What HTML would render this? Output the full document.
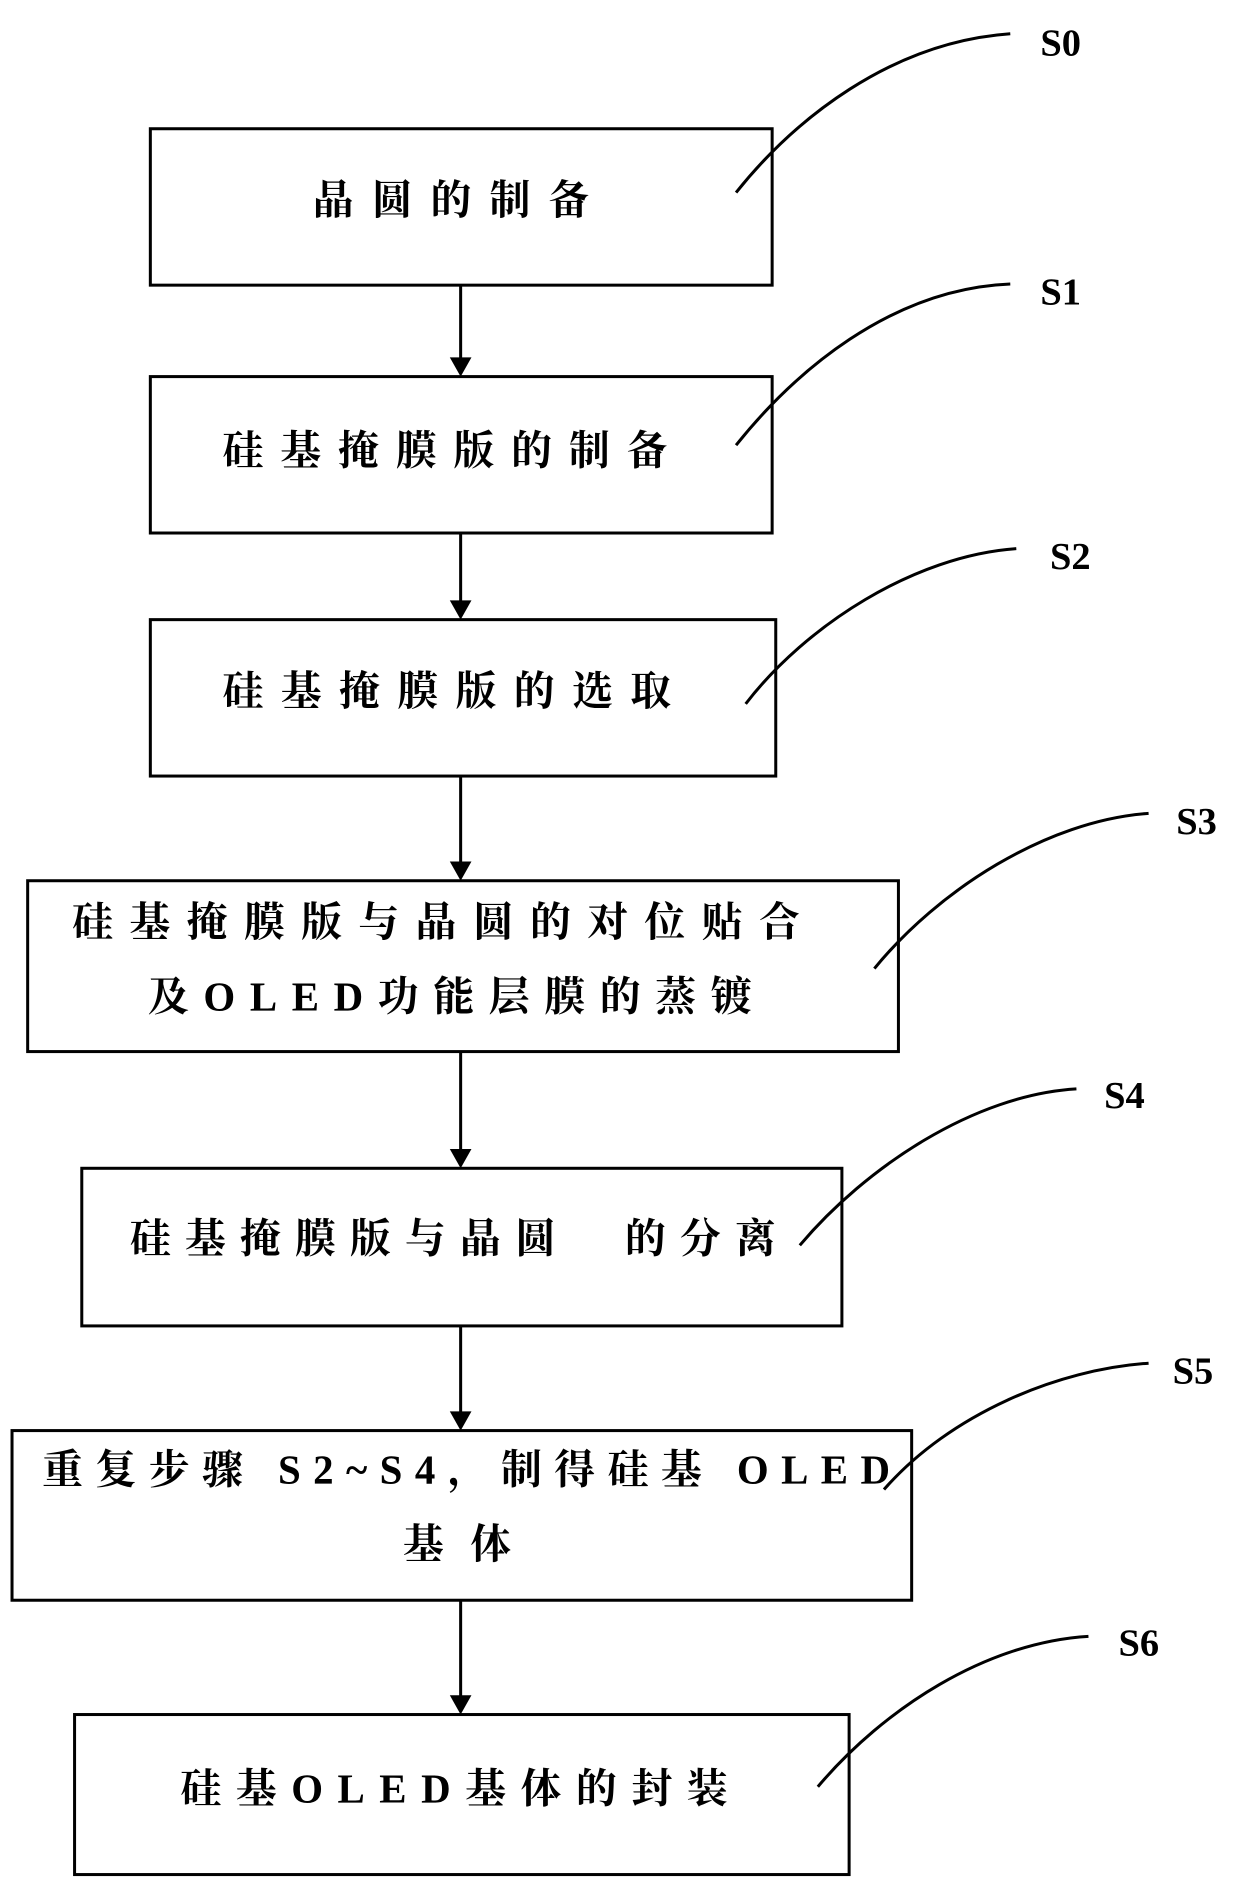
<!DOCTYPE html>
<html><head><meta charset="utf-8"><style>
html,body{margin:0;padding:0;background:#fff;}
svg{display:block}
.t{font-family:"Liberation Serif","Noto Serif CJK SC",serif;font-weight:bold;font-size:34px;fill:#000}
.s{font-family:"Liberation Serif",serif;font-weight:bold;font-size:32px;fill:#000}
</style></head><body>
<svg width="1240" height="1889" viewBox="0 0 1031 1570" preserveAspectRatio="none" xmlns="http://www.w3.org/2000/svg">
<defs><marker id="a" markerWidth="10" markerHeight="10" refX="9" refY="5" orient="auto" markerUnits="userSpaceOnUse"><path d="M0,0 L10,5 L0,10 Z" transform="scale(2) translate(-5,-2.5)" fill="#000"/></marker></defs>
<g fill="none" stroke="#000" stroke-width="2.5">
<rect x="125" y="107" width="517" height="130"/>
<rect x="125" y="313" width="517" height="130"/>
<rect x="125" y="515" width="520" height="130"/>
<rect x="23" y="732" width="724" height="142"/>
<rect x="68" y="971" width="632" height="131"/>
<rect x="10" y="1189" width="748" height="141"/>
<rect x="62" y="1425" width="644" height="133"/>
<line x1="383" y1="237" x2="383" y2="303"/>
<line x1="383" y1="443" x2="383" y2="505"/>
<line x1="383" y1="645" x2="383" y2="722"/>
<line x1="383" y1="874" x2="383" y2="961"/>
<line x1="383" y1="1102" x2="383" y2="1179"/>
<line x1="383" y1="1330" x2="383" y2="1415"/>
<path d="M612,160 C660,100 740,35 840,28"/>
<path d="M612,370 C660,310 740,240 840,236"/>
<path d="M620,585 C670,520 760,462 845,456"/>
<path d="M727,805 C780,740 870,682 955,676"/>
<path d="M665,1035 C720,970 810,910 895,905"/>
<path d="M735,1238 C790,1175 880,1138 955,1133"/>
<path d="M680,1485 C735,1420 820,1365 905,1360"/>
</g>
<g fill="#000">
<path d="M374,297 L392,297 L383,313 Z"/>
<path d="M374,499 L392,499 L383,515 Z"/>
<path d="M374,716 L392,716 L383,732 Z"/>
<path d="M374,955 L392,955 L383,971 Z"/>
<path d="M374,1173 L392,1173 L383,1189 Z"/>
<path d="M374,1409 L392,1409 L383,1425 Z"/>
</g>
<text class="t" x="260" y="178" textLength="230" lengthAdjust="spacing">晶圆的制备</text>
<text class="t" x="185" y="386" textLength="370" lengthAdjust="spacing">硅基掩膜版的制备</text>
<text class="t" x="185" y="586" textLength="373" lengthAdjust="spacing">硅基掩膜版的选取</text>
<text class="t" x="60" y="778" textLength="605" lengthAdjust="spacing">硅基掩膜版与晶圆的对位贴合</text>
<text class="t" x="123" y="840" textLength="502" lengthAdjust="spacing">及OLED功能层膜的蒸镀</text>
<text class="t" x="108" y="1041" textLength="537" lengthAdjust="spacing">硅基掩膜版与晶圆　的分离</text>
<text class="t" x="35" y="1233" textLength="705" lengthAdjust="spacing">重复步骤 S2~S4，制得硅基 OLED</text>
<text class="t" x="335" y="1295" textLength="90" lengthAdjust="spacing">基体</text>
<text class="t" x="150" y="1498" textLength="455" lengthAdjust="spacing">硅基OLED基体的封装</text>
<text class="s" x="865" y="46">S0</text>
<text class="s" x="865" y="253">S1</text>
<text class="s" x="873" y="473">S2</text>
<text class="s" x="978" y="693">S3</text>
<text class="s" x="918" y="921">S4</text>
<text class="s" x="975" y="1150">S5</text>
<text class="s" x="930" y="1376">S6</text>
</svg>
</body></html>
